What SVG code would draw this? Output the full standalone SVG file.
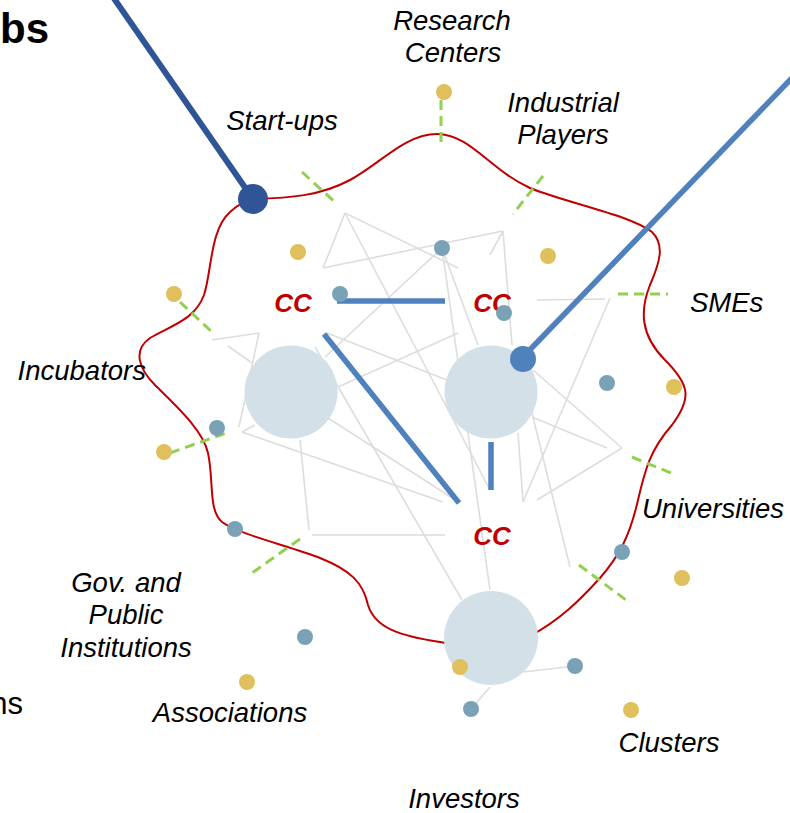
<svg xmlns="http://www.w3.org/2000/svg" width="790" height="813" viewBox="0 0 790 813">
<style>
.lbl{font-family:"Liberation Sans",Arial,sans-serif;font-style:italic;font-size:27.5px;fill:#000;}
.cc{font-family:"Liberation Sans",Arial,sans-serif;font-style:italic;font-weight:bold;font-size:26px;fill:#c00000;text-anchor:middle;}
.grey{stroke:#dddddd;stroke-width:1.6;fill:none;}
.green{stroke:#92d050;stroke-width:3;stroke-dasharray:10 6;fill:none;}
.teal{fill:#7aa2b6;}
.yel{fill:#dfc05c;}
.big{fill:#d3e0e8;}
.blue{stroke:#4f81bd;stroke-width:5.5;fill:none;}
</style>
<rect width="790" height="813" fill="#ffffff"/>
<text x="0" y="43" font-family="Liberation Sans,Arial,sans-serif" font-weight="bold" font-size="42">bs</text>
<text x="23" y="714" text-anchor="end" font-family="Liberation Sans,Arial,sans-serif" font-size="31">ns</text>

<g id="connectors">
  <g id="network">
    <line class="grey" x1="323" y1="268" x2="345" y2="213"/>
    <line class="grey" x1="345" y1="213" x2="458" y2="268"/>
    <line class="grey" x1="345" y1="213" x2="490" y2="490"/>
    <line class="grey" x1="323" y1="268" x2="503" y2="231"/>
    <line class="grey" x1="503" y1="231" x2="490" y2="255"/>
    <line class="grey" x1="503" y1="231" x2="512" y2="345"/>
    <line class="grey" x1="442" y1="248" x2="325" y2="357"/>
    <line class="grey" x1="442" y1="248" x2="490" y2="590"/>
    <line class="grey" x1="442" y1="248" x2="478" y2="345"/>
    <line class="grey" x1="338" y1="387" x2="458" y2="333"/>
    <line class="grey" x1="327" y1="333" x2="447" y2="380"/>
    <line class="grey" x1="212" y1="340" x2="259" y2="333"/>
    <line class="grey" x1="259" y1="333" x2="239" y2="427"/>
    <line class="grey" x1="228" y1="346" x2="252" y2="363"/>
    <line class="grey" x1="242" y1="432" x2="255" y2="425"/>
    <line class="grey" x1="242" y1="432" x2="443" y2="502"/>
    <line class="grey" x1="300" y1="440" x2="309" y2="530"/>
    <line class="grey" x1="312" y1="535" x2="445" y2="535"/>
    <line class="grey" x1="315" y1="347" x2="462" y2="600"/>
    <line class="grey" x1="328" y1="418" x2="460" y2="503"/>
    <line class="grey" x1="537" y1="300" x2="605" y2="299"/>
    <line class="grey" x1="610" y1="298" x2="523" y2="502"/>
    <line class="grey" x1="533" y1="370" x2="622" y2="448"/>
    <line class="grey" x1="622" y1="448" x2="537" y2="500"/>
    <line class="grey" x1="532" y1="417" x2="607" y2="448"/>
    <line class="grey" x1="530" y1="405" x2="570" y2="567"/>
    <line class="grey" x1="518" y1="433" x2="523" y2="502"/>
    <line class="grey" x1="523" y1="672" x2="575" y2="666"/>
    <line class="grey" x1="490" y1="687" x2="471" y2="709"/>
  </g>
  <path id="boundary" d="M253,199 C290,198 320,196 350,180 C380,164 405,134 437,134 C470,134 490,170 530,188 C570,204 630,215 652,232 C665,245 660,262 650,285 C640,310 640,335 665,360 C690,385 692,398 672,425 C650,450 645,470 638,500 C630,535 620,555 600,578 C580,600 560,620 530,636 C500,650 470,648 440,642 C400,636 375,628 368,605 C363,582 350,570 320,558 C290,546 240,535 222,522 C208,510 214,480 208,453 C203,430 175,405 155,385 C138,368 133,350 150,338 C170,326 195,320 204,295 C212,270 210,230 230,212 C240,203 247,200 253,199 Z" fill="none" stroke="#c00000" stroke-width="2"/>
  <g id="links">
    <line class="green" x1="441" y1="100" x2="441" y2="148"/>
    <line class="green" x1="302" y1="172" x2="336" y2="203"/>
    <line class="green" x1="543" y1="176" x2="513" y2="214"/>
    <line class="green" x1="618" y1="294" x2="668" y2="294"/>
    <line class="green" x1="180" y1="302" x2="212" y2="332"/>
    <line class="green" x1="170" y1="453" x2="229" y2="432"/>
    <line class="green" x1="632" y1="457" x2="676" y2="475"/>
    <line class="green" x1="300" y1="539" x2="252" y2="573"/>
    <line class="green" x1="579" y1="565" x2="626" y2="600"/>
  </g>
</g>

<g id="hub-left"><circle class="big" cx="291" cy="392" r="46.5"/><text class="cc" x="293" y="312">CC</text></g>
<g id="hub-right"><circle class="big" cx="491" cy="392" r="46.5"/><text class="cc" x="492" y="312">CC</text></g>
<g id="hub-bottom"><circle class="big" cx="491" cy="638" r="47"/><text class="cc" x="492" y="545">CC</text></g>

<g id="strong-links">
  <line class="blue" x1="337" y1="301" x2="445" y2="301"/>
  <line class="blue" x1="324" y1="334" x2="459" y2="503"/>
  <line class="blue" x1="491" y1="442" x2="491" y2="490"/>
  <line x1="792" y1="78" x2="522" y2="358" stroke="#4f81bd" stroke-width="5.5"/>
  <line x1="113" y1="-3" x2="253" y2="199" stroke="#2f5597" stroke-width="6"/>
</g>

<g id="actors">
  <circle class="teal" cx="442" cy="248" r="8"/>
  <circle class="teal" cx="340" cy="294" r="8"/>
  <circle class="teal" cx="504" cy="313" r="8"/>
  <circle class="teal" cx="607" cy="383" r="8"/>
  <circle class="teal" cx="217" cy="428" r="8"/>
  <circle class="teal" cx="235" cy="529" r="8"/>
  <circle class="teal" cx="622" cy="552" r="8"/>
  <circle class="teal" cx="305" cy="637" r="8"/>
  <circle class="teal" cx="575" cy="666" r="8"/>
  <circle class="teal" cx="471" cy="709" r="8"/>
  <circle class="yel" cx="444" cy="92" r="8"/>
  <circle class="yel" cx="298" cy="252" r="8"/>
  <circle class="yel" cx="174" cy="294" r="8"/>
  <circle class="yel" cx="548" cy="256" r="8"/>
  <circle class="yel" cx="674" cy="387" r="8"/>
  <circle class="yel" cx="164" cy="452" r="8"/>
  <circle class="yel" cx="682" cy="578" r="8"/>
  <circle class="yel" cx="247" cy="682" r="8"/>
  <circle class="yel" cx="460" cy="667" r="8"/>
  <circle class="yel" cx="631" cy="710" r="8"/>
  <circle cx="253" cy="199" r="15" fill="#2f5597"/>
  <circle cx="523" cy="359" r="13" fill="#4f81bd"/>
</g>

<g id="label-research"><text class="lbl" x="452" y="30" text-anchor="middle">Research</text><text class="lbl" x="453" y="62" text-anchor="middle">Centers</text></g>
<g id="label-industrial"><text class="lbl" x="563" y="112" text-anchor="middle">Industrial</text><text class="lbl" x="563" y="144" text-anchor="middle">Players</text></g>
<g id="label-startups"><text class="lbl" x="282" y="130" text-anchor="middle">Start-ups</text></g>
<g id="label-smes"><text class="lbl" x="690" y="312">SMEs</text></g>
<g id="label-incubators"><text class="lbl" x="146" y="380" text-anchor="end">Incubators</text></g>
<g id="label-universities"><text class="lbl" x="642" y="518">Universities</text></g>
<g id="label-gov"><text class="lbl" x="126" y="592" text-anchor="middle">Gov. and</text><text class="lbl" x="126" y="624" text-anchor="middle">Public</text><text class="lbl" x="126" y="657" text-anchor="middle">Institutions</text></g>
<g id="label-associations"><text class="lbl" x="230" y="722" text-anchor="middle">Associations</text></g>
<g id="label-investors"><text class="lbl" x="464" y="808" text-anchor="middle">Investors</text></g>
<g id="label-clusters"><text class="lbl" x="669" y="752" text-anchor="middle">Clusters</text></g>
</svg>
